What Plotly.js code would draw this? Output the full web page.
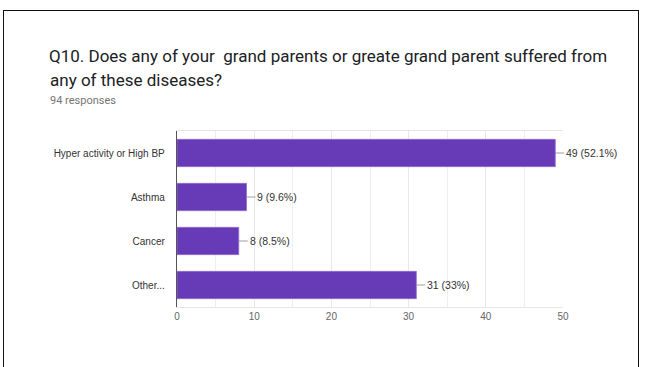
<!DOCTYPE html>
<html>
<head>
<meta charset="utf-8">
<script src="https://cdn.plot.ly/plotly-3.0.1.min.js"></script>
<style>
  html, body { margin: 0; padding: 0; background: #fff; }
  #wrap { position: relative; width: 646px; height: 367px; overflow: hidden; }
  #frame { position: absolute; left: 3px; top: 10px; width: 636px; height: 400px; border: 1.5px solid #111; box-sizing: border-box; pointer-events: none; z-index: 2; }
  #chart { position: absolute; left: 0; top: 0; width: 646px; height: 367px; }
</style>
</head>
<body>
<div id="wrap">
  <div id="chart"></div>
  <div id="frame"></div>
</div>
<script>
const categories = ["Hyper activity or High BP", "Asthma", "Cancer", "Other..."];
const counts = [49, 9, 8, 31];
const percents = ["52.1%", "9.6%", "8.5%", "33%"];
const xTicks = [0, 10, 20, 30, 40, 50];

const trace = {
  type: "bar",
  orientation: "h",
  y: categories,
  x: counts,
  width: 0.62,
  marker: { color: "#673ab7", line: { color: "#8e6fd0", width: 0.8 } },
  hoverinfo: "none"
};

const annotations = categories.map((c, i) => ({
  x: counts[i], y: c, xref: "x", yref: "y",
  text: counts[i] + " (" + percents[i] + ")",
  showarrow: true, arrowhead: 0, arrowwidth: 0.8, arrowcolor: "#888",
  ax: 9, ay: 0, xanchor: "left", standoff: 0,
  font: { family: "Liberation Sans, Arial, sans-serif", size: 10.5, color: "#333" }
}));

// plot area: left 177, width 386; top 131, height 176
const px = v => (v - 177) / 386;
const py = v => (307 - v) / 176;

annotations.push({
  text: "any of these diseases?", xref: "paper", yref: "paper",
  x: px(48), y: py(80), xanchor: "left", yanchor: "middle", showarrow: false,
  font: { family: "Roboto, sans-serif", size: 17, color: "#202124" }
});
annotations.push({
  text: "94 responses", xref: "paper", yref: "paper",
  x: px(48), y: py(100), xanchor: "left", yanchor: "middle", showarrow: false,
  font: { family: "Roboto, sans-serif", size: 11, color: "#757575" }
});

const layout = {
  width: 646, height: 367,
  margin: { l: 177, r: 83, t: 131, b: 60 },
  paper_bgcolor: "#fff", plot_bgcolor: "#fff",
  showlegend: false,
  title: {
    text: "Q10. Does any of your  grand parents or greate grand parent suffered from",
    xref: "container", yref: "container",
    x: 49 / 646, xanchor: "left",
    y: 1 - 56 / 367, yanchor: "middle",
    font: { family: "Roboto, sans-serif", size: 17, color: "#202124" }
  },
  xaxis: {
    range: [0, 50],
    tickvals: xTicks,
    showgrid: true, gridcolor: "#e8e8e8", gridwidth: 1,
    minor: { dtick: 5, showgrid: true, gridcolor: "#eeeeee", gridwidth: 1 },
    showline: true, linecolor: "#e6e6e6", linewidth: 1, mirror: true,
    zeroline: false, ticks: "",
    tickfont: { family: "Liberation Sans, Arial, sans-serif", size: 10, color: "#666" },
    fixedrange: true
  },
  yaxis: {
    autorange: "reversed",
    showline: true, linecolor: "#555", linewidth: 1.2,
    showgrid: false, zeroline: false, ticks: "",
    ticklabelstandoff: 9,
    tickfont: { family: "Liberation Sans, Arial, sans-serif", size: 10, color: "#333" },
    fixedrange: true
  },
  annotations: annotations
};

Plotly.newPlot("chart", [trace], layout, { displayModeBar: false, staticPlot: true });
</script>
</body>
</html>
